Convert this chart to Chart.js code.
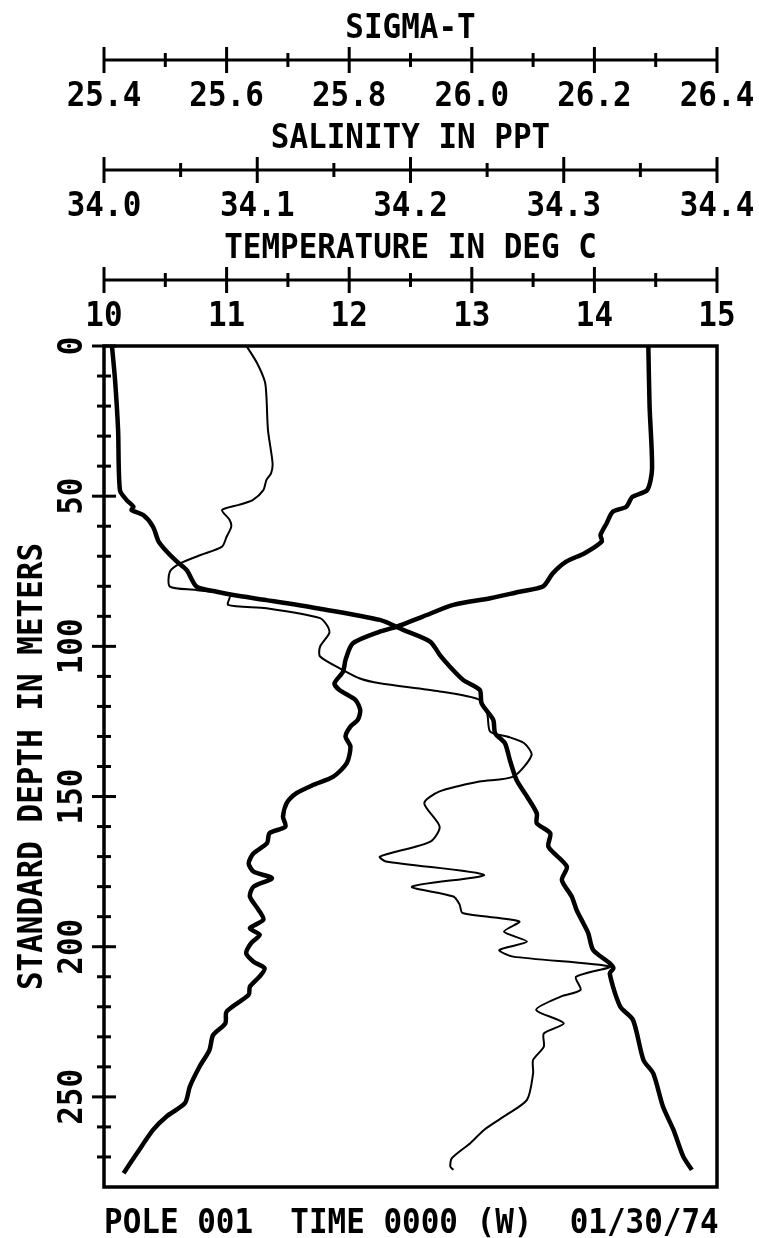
<!DOCTYPE html>
<html>
<head>
<meta charset="utf-8">
<script src="https://cdn.jsdelivr.net/npm/chart.js@4.4.1/dist/chart.umd.min.js"></script>
<style>
  body { margin: 0; background: #fff; }
  canvas { display: block; }
</style>
</head>
<body>
<canvas id="profileChart" width="759" height="1238"></canvas>
<script>
// temperature profile (deg C)
const tempDepth = [0, 20, 41, 48, 50.2, 53.5, 55.2, 59, 62.9, 65.1, 69, 71.8, 75.7, 80.1, 81.8, 84, 86.2, 90.1, 93.4, 95.1,
    99, 104.5, 108.4, 112.3, 114.5, 117.8, 121.2, 124.5, 126.7, 130, 133.4, 138.9, 143.4, 146.1, 148.9, 152.2, 156.7, 160, 162.2, 165.5,
    168.9, 172.2, 175, 177.2, 180, 183.3, 187.7, 191, 193.9, 196, 198.8, 202.2, 205, 207.2, 209.9, 213.3, 216, 221.6, 225.5, 229.4,
    234.4, 239.9, 246.6, 252.1, 256.5, 261, 268.7, 275.4];
const tempValues = [14.44, 14.45, 14.47, 14.43, 14.31, 14.26, 14.15, 14.10, 14.05, 14.06, 13.92, 13.77, 13.66, 13.58, 13.39, 13.15, 12.85, 12.60, 12.39, 12.25,
    12.03, 11.97, 11.95, 11.88, 11.92, 12.05, 12.09, 12.07, 12.01, 11.97, 12.01, 11.98, 11.87, 11.71, 11.57, 11.49, 11.46, 11.48, 11.35, 11.33,
    11.22, 11.18, 11.22, 11.37, 11.22, 11.19, 11.26, 11.30, 11.19, 11.27, 11.20, 11.16, 11.22, 11.31, 11.27, 11.19, 11.18, 11.00, 10.99, 10.89,
    10.86, 10.78, 10.70, 10.66, 10.51, 10.40, 10.27, 10.16];

// salinity profile (ppt)
const salDepth = [0, 5.8, 11.9, 16.9, 28, 39, 42.4, 44.6, 48, 51.3, 52.9, 54.6, 57.9, 60.2, 63.5, 66.8, 69.6, 72.3, 75.1, 80.1,
    81.2, 82.9, 86.2, 87.3, 90.6, 93.4, 95.6, 100.1, 103.4, 107.9, 110.7, 112.3, 115, 117.8, 122.3, 128.4, 130, 132.2, 136.2, 143.4,
    145, 148.3, 152.2, 160, 165, 170, 171.6, 176.1, 180, 183.3, 185.9, 188.8, 191.6, 195, 198.3, 201.1, 203.3, 206.6, 210, 214.4,
    216.6, 221, 225.5, 228.9, 233.3, 237.7, 242.2, 251, 256.5, 261, 265.4, 270.4, 273.2, 274.3];
const salValues = [34.093, 34.100, 34.105, 34.106, 34.107, 34.110, 34.109, 34.106, 34.104, 34.097, 34.088, 34.077, 34.082, 34.083, 34.080, 34.077, 34.063, 34.050, 34.043, 34.043,
    34.060, 34.082, 34.081, 34.106, 34.141, 34.146, 34.147, 34.141, 34.141, 34.156, 34.167, 34.180, 34.219, 34.245, 34.250, 34.252, 34.263, 34.274, 34.279, 34.267,
    34.245, 34.219, 34.209, 34.219, 34.213, 34.180, 34.184, 34.248, 34.201, 34.228, 34.232, 34.234, 34.271, 34.261, 34.276, 34.258, 34.267, 34.330, 34.308, 34.311,
    34.298, 34.282, 34.300, 34.287, 34.287, 34.280, 34.280, 34.276, 34.261, 34.248, 34.239, 34.227, 34.226, 34.228];

// sigma-t profile
const sigmaDepth = [0, 11.3, 28, 48, 51.3, 53.5, 54.6, 56.3, 60.2, 65.1, 67.9, 71.8, 74.6, 80.1, 81.8, 82.9, 84.6, 87.3, 91.2, 94.5,
    98.4, 102.9, 106.7, 111.2, 114.5, 119, 124.5, 128.9, 132.2, 137.8, 144.5, 150, 155.6, 158.9, 162.2, 166.7, 173.3, 177.8, 183.3, 187.8,
    192.2, 195.5, 201.1, 205.5, 207.2, 208.9, 219.9, 224.4, 237.7, 242.2, 253.3, 261, 269.9, 274.3];
const sigmaValues = [25.413, 25.418, 25.423, 25.426, 25.437, 25.448, 25.445, 25.464, 25.480, 25.489, 25.500, 25.519, 25.535, 25.551, 25.584, 25.611, 25.665, 25.747, 25.850, 25.888,
    25.932, 25.948, 25.964, 25.986, 26.013, 26.016, 26.035, 26.038, 26.054, 26.062, 26.073, 26.090, 26.106, 26.106, 26.128, 26.125, 26.155, 26.147, 26.163, 26.171,
    26.182, 26.190, 26.198, 26.225, 26.231, 26.225, 26.242, 26.263, 26.280, 26.296, 26.312, 26.329, 26.345, 26.359];

// axis ticks
const sigmaTicks = [25.4, 25.6, 25.8, 26.0, 26.2, 26.4];
const salTicks = [34.0, 34.1, 34.2, 34.3, 34.4];
const tempTicks = [10, 11, 12, 13, 14, 15];
const depthTicks = [0, 50, 100, 150, 200, 250];

const footerText = 'POLE 001  TIME 0000 (W)  01/30/74';

const FONT = 'bold 34px "DejaVu Sans Mono"';
const SQUEEZE = 0.91;

function toPoints(depths, values) {
    return depths.map((d, i) => ({ x: values[i], y: d }));
}

function plotterText(ctx, str, x, y, rotate) {
    ctx.save();
    ctx.translate(x, y);
    if (rotate) ctx.rotate(-Math.PI / 2);
    ctx.scale(SQUEEZE, 1);
    ctx.font = FONT;
    ctx.textAlign = 'center';
    ctx.textBaseline = 'alphabetic';
    ctx.fillText(str, 0, 0);
    ctx.restore();
}

function drawTopAxis(ctx, scale, ticks, minorStep, lineY, title, decimals) {
    const x0 = scale.getPixelForValue(scale.min);
    const x1 = scale.getPixelForValue(scale.max);
    ctx.lineWidth = 3;
    ctx.beginPath();
    ctx.moveTo(x0, lineY);
    ctx.lineTo(x1, lineY);
    ctx.stroke();

    const n = Math.round((scale.max - scale.min) / minorStep);
    for (let i = 0; i <= n; i++) {
        const x = scale.getPixelForValue(scale.min + i * minorStep);
        const len = (i % 2 === 0) ? 13 : 7;
        ctx.beginPath();
        ctx.moveTo(x, lineY - len);
        ctx.lineTo(x, lineY + len);
        ctx.stroke();
    }
    ticks.forEach(v => {
        plotterText(ctx, v.toFixed(decimals), scale.getPixelForValue(v), lineY + 46);
    });
    const mid = (x0 + x1) / 2;
    plotterText(ctx, title, mid, lineY - 22);
}

const plotterAxes = {
    id: 'plotterAxes',
    afterDraw(chart) {
        const ctx = chart.ctx;
        const area = chart.chartArea;
        const ys = chart.scales.y;
        ctx.save();
        ctx.strokeStyle = '#000';
        ctx.fillStyle = '#000';

        // frame
        ctx.lineWidth = 3.5;
        ctx.strokeRect(area.left, area.top, area.right - area.left, area.bottom - area.top);

        drawTopAxis(ctx, chart.scales.xSig, sigmaTicks, 0.1, 60, 'SIGMA-T', 1);
        drawTopAxis(ctx, chart.scales.xSal, salTicks, 0.05, 170, 'SALINITY IN PPT', 1);
        drawTopAxis(ctx, chart.scales.xTemp, tempTicks, 0.5, 280, 'TEMPERATURE IN DEG C', 0);

        // depth axis ticks
        ctx.lineWidth = 3;
        for (let d = 0; d < ys.max; d += 10) {
            const y = ys.getPixelForValue(d);
            const len = (d % 50 === 0) ? 12 : 7;
            ctx.beginPath();
            ctx.moveTo(area.left - len, y);
            ctx.lineTo(area.left + len, y);
            ctx.stroke();
        }
        depthTicks.forEach(d => {
            plotterText(ctx, String(d), area.left - 22, ys.getPixelForValue(d), true);
        });
        plotterText(ctx, 'STANDARD DEPTH IN METERS', 42, (area.top + area.bottom) / 2, true);

        // footer
        ctx.save();
        ctx.translate(104, 1233);
        ctx.scale(SQUEEZE, 1);
        ctx.font = FONT;
        ctx.textAlign = 'left';
        ctx.fillText(footerText, 0, 0);
        ctx.restore();

        ctx.restore();
    }
};

function createChart() {
    const ctx = document.getElementById('profileChart').getContext('2d');
    const lineBase = { showLine: true, pointRadius: 0, borderColor: '#000', tension: 0.25, yAxisID: 'y' };
    new Chart(ctx, {
        type: 'scatter',
        data: {
            datasets: [
                Object.assign({}, lineBase, { label: 'Temperature', data: toPoints(tempDepth, tempValues), xAxisID: 'xTemp', borderWidth: 4.5 }),
                Object.assign({}, lineBase, { label: 'Sigma-T', data: toPoints(sigmaDepth, sigmaValues), xAxisID: 'xSig', borderWidth: 4.5 }),
                Object.assign({}, lineBase, { label: 'Salinity', data: toPoints(salDepth, salValues), xAxisID: 'xSal', borderWidth: 2 })
            ]
        },
        options: {
            responsive: false,
            devicePixelRatio: 1,
            animation: false,
            layout: { padding: { left: 104, top: 346, right: 42, bottom: 51 } },
            plugins: { legend: { display: false }, tooltip: { enabled: false } },
            scales: {
                xTemp: { type: 'linear', position: 'top', min: 10, max: 15, display: false },
                xSal: { type: 'linear', position: 'top', min: 34.0, max: 34.4, display: false },
                xSig: { type: 'linear', position: 'top', min: 25.4, max: 26.4, display: false },
                y: { type: 'linear', reverse: true, min: 0, max: 280, display: false }
            }
        },
        plugins: [plotterAxes]
    });
}

window.onload = createChart;
</script>
</body>
</html>
